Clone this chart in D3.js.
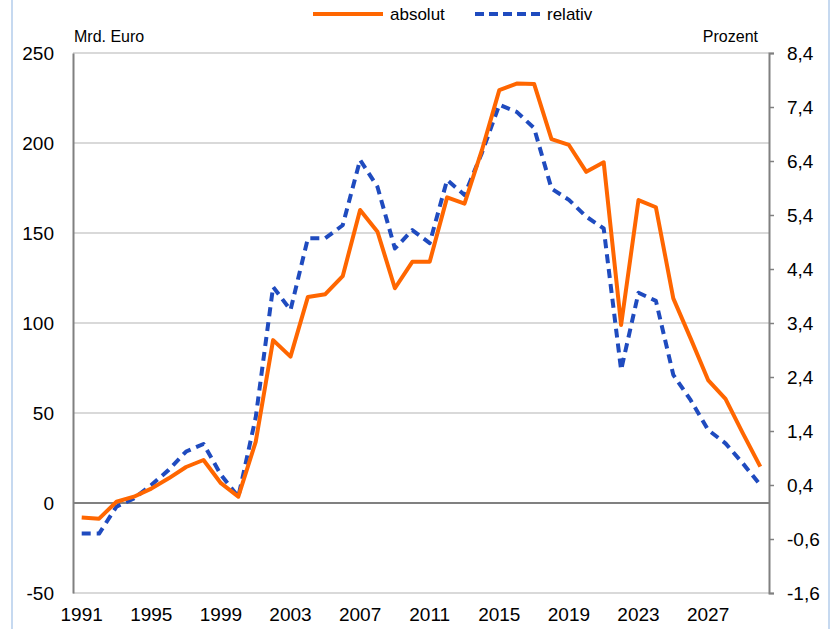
<!DOCTYPE html>
<html>
<head>
<meta charset="utf-8">
<script src="https://cdn.jsdelivr.net/npm/d3@7"></script>
<style>
  body { margin: 0; background: #fff; }
  svg { font-family: "Liberation Sans", Arial, sans-serif; }
</style>
</head>
<body>
<svg id="chart" width="837" height="629"></svg>
<script>
// Jahre und Werte
const years = d3.range(1991, 2031);
const absolut = [-8, -8.7, 0.7, 3.5, 8, 13.7, 20, 23.9, 11, 3.5,
  34, 90.5, 81.3, 114.5, 116, 126, 162.8, 150.7, 119.3, 134,
  134, 169.8, 166.3, 196, 229.4, 233, 232.8, 202.2, 198.9, 184,
  189.3, 98.9, 168.3, 164.3, 113.7, 91.3, 68.3, 57.8, 38.7, 20.2];
const relativ = [-0.5, -0.5, 0.0, 0.15, 0.4, 0.68, 1.02, 1.16, 0.59, 0.18,
  1.65, 4.07, 3.64, 4.97, 4.97, 5.21, 6.42, 5.92, 4.78, 5.12,
  4.88, 6.05, 5.77, 6.55, 7.44, 7.31, 7.01, 5.89, 5.68, 5.37,
  5.15, 2.53, 3.96, 3.81, 2.44, 1.97, 1.42, 1.17, 0.8, 0.4];
const leftTicks = [-50, 0, 50, 100, 150, 200, 250];
const rightTicks = [-1.6, -0.6, 0.4, 1.4, 2.4, 3.4, 4.4, 5.4, 6.4, 7.4, 8.4];
const xLabels = [1991, 1995, 1999, 2003, 2007, 2011, 2015, 2019, 2023, 2027];

const svg = d3.select("#chart");
const mLeft = 73, mRight = 769, mTop = 53, mBottom = 593;

const x = d3.scaleBand().domain(years).range([mLeft, mRight]).padding(0);
const cx = d => x(d) + x.bandwidth() / 2;
const yL = d3.scaleLinear().domain([-50, 250]).range([mBottom, mTop]);
const yR = d3.scaleLinear().domain([-1.6, 8.4]).range([mBottom, mTop]);
// deutsches Zahlenformat mit normalem Bindestrich als Minus
const komma = v => d3.format(".1f")(v).replace(".", ",").replace("−", "-");
const ganz = v => d3.format("d")(v).replace("−", "-");

// Rahmen links/rechts
svg.append("line").attr("x1", 12).attr("x2", 12).attr("y1", 0).attr("y2", 629)
  .attr("stroke", "#c6d9f0").attr("stroke-width", 2);
svg.append("line").attr("x1", 829).attr("x2", 829).attr("y1", 0).attr("y2", 629)
  .attr("stroke", "#c6d9f0").attr("stroke-width", 2);

// Gitterlinien
svg.append("g").selectAll("line")
  .data(leftTicks.filter(d => d !== 0))
  .enter().append("line")
  .attr("x1", mLeft).attr("x2", mRight)
  .attr("y1", d => yL(d)).attr("y2", d => yL(d))
  .attr("stroke", "#d9d9d9").attr("stroke-width", 2);

svg.append("line")
  .attr("x1", mLeft).attr("x2", mRight)
  .attr("y1", yL(0)).attr("y2", yL(0))
  .attr("stroke", "#808080").attr("stroke-width", 2);

// linke Achse
const axL = svg.append("g").attr("transform", `translate(${mLeft},0)`)
  .call(d3.axisLeft(yL).tickValues(leftTicks).tickFormat(ganz).tickSize(0).tickPadding(19));
axL.select(".domain").attr("stroke", "#808080").attr("stroke-width", 2);
axL.selectAll("text").attr("font-size", 19).attr("fill", "#000");

// rechte Achse
const axR = svg.append("g").attr("transform", `translate(${mRight},0)`)
  .call(d3.axisRight(yR).tickValues(rightTicks).tickFormat(komma).tickSizeOuter(0).tickSize(5).tickPadding(13));
axR.select(".domain").attr("stroke", "#808080").attr("stroke-width", 2);
axR.selectAll("line").attr("stroke", "#808080").attr("stroke-width", 1.5);
axR.selectAll("text").attr("font-size", 19).attr("fill", "#000");

// x-Achsenbeschriftung
svg.append("g").selectAll("text")
  .data(xLabels)
  .enter().append("text")
  .attr("x", d => cx(d))
  .attr("y", 621)
  .attr("text-anchor", "middle")
  .attr("font-size", 19)
  .text(d => d);

// Einheiten
svg.append("text").attr("x", 74).attr("y", 42).attr("font-size", 16).text("Mrd. Euro");
svg.append("text").attr("x", 758).attr("y", 42).attr("font-size", 16)
  .attr("text-anchor", "end").text("Prozent");

// Linien
const lineAbs = d3.line().x((d, i) => cx(years[i])).y(d => yL(d));
const lineRel = d3.line().x((d, i) => cx(years[i])).y(d => yR(d));

svg.append("path").datum(relativ)
  .attr("d", lineRel)
  .attr("fill", "none")
  .attr("stroke", "#1f4bbf")
  .attr("stroke-width", 4)
  .attr("stroke-dasharray", "9,6")
  .attr("stroke-linejoin", "round");

svg.append("path").datum(absolut)
  .attr("d", lineAbs)
  .attr("fill", "none")
  .attr("stroke", "#ff6600")
  .attr("stroke-width", 4)
  .attr("stroke-linejoin", "round");

// Legende
const leg = svg.append("g");
leg.append("line").attr("x1", 313).attr("x2", 383).attr("y1", 14).attr("y2", 14)
  .attr("stroke", "#ff6600").attr("stroke-width", 4);
leg.append("text").attr("x", 390).attr("y", 20).attr("font-size", 17).text("absolut");
leg.append("line").attr("x1", 475).attr("x2", 540).attr("y1", 14).attr("y2", 14)
  .attr("stroke", "#1f4bbf").attr("stroke-width", 4).attr("stroke-dasharray", "9,5");
leg.append("text").attr("x", 547).attr("y", 20).attr("font-size", 17).text("relativ");
</script>
</body>
</html>
